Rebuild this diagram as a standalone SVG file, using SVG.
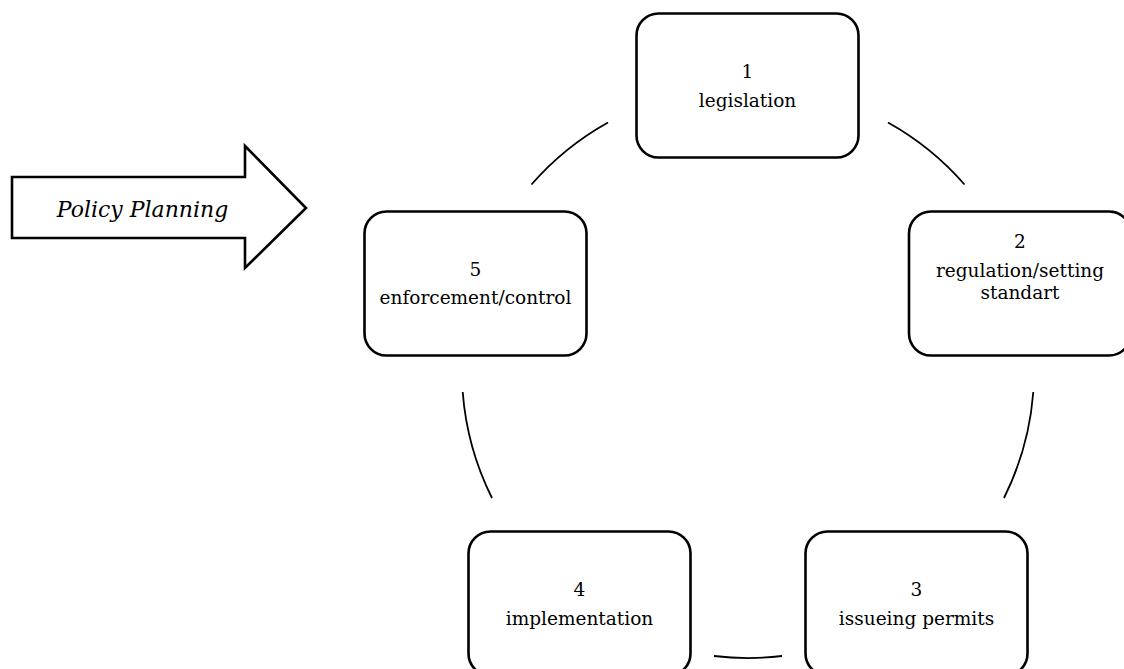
<svg xmlns="http://www.w3.org/2000/svg" width="1124" height="669" viewBox="0 0 1124 669">
<style>
.box{fill:#fff;stroke:#000;stroke-width:2.6}
.lbl{font-family:"DejaVu Serif","Liberation Serif",serif;font-size:18.5px;fill:#000;text-anchor:middle}
.arc{fill:none;stroke:#000;stroke-width:1.8}
.ttl{font-family:"DejaVu Serif","Liberation Serif",serif;font-style:italic;font-size:22px;fill:#000;text-anchor:middle}
</style>
<rect width="1124" height="669" fill="#fff"/>
<g id="policy-planning">
<polygon class="box" points="12,177 245,177 245,146 306,208 245,268 245,238 12,238"/>
<text class="ttl" x="142.5" y="217">Policy Planning</text>
</g>
<g id="connectors">
<path class="arc" d="M531.5 184.5 A286 286 0 0 1 608 122.5"/>
<path class="arc" d="M888 122.5 A286 286 0 0 1 964.5 184.5"/>
<path class="arc" d="M1033.3 392 A286 286 0 0 1 1004 498"/>
<path class="arc" d="M782 656 A286 286 0 0 1 714 656"/>
<path class="arc" d="M492 498 A286 286 0 0 1 462.7 392"/>
</g>
<g id="node1">
<rect class="box" x="636.5" y="13.5" width="222" height="144" rx="22"/>
<text class="lbl" x="747.5" y="78">1</text>
<text class="lbl" x="747.5" y="107">legislation</text>
</g>
<g id="node2">
<rect class="box" x="909" y="211.5" width="222" height="144" rx="22"/>
<text class="lbl" x="1020" y="248">2</text>
<text class="lbl" x="1020" y="277">regulation/setting</text>
<text class="lbl" x="1020" y="299">standart</text>
</g>
<g id="node3">
<rect class="box" x="805.5" y="531.5" width="222" height="144" rx="22"/>
<text class="lbl" x="916.5" y="596">3</text>
<text class="lbl" x="916.5" y="625">issueing permits</text>
</g>
<g id="node4">
<rect class="box" x="468.5" y="531.5" width="222" height="144" rx="22"/>
<text class="lbl" x="579.5" y="596">4</text>
<text class="lbl" x="579.5" y="625">implementation</text>
</g>
<g id="node5">
<rect class="box" x="364.5" y="211.5" width="222" height="144" rx="22"/>
<text class="lbl" x="475.5" y="276">5</text>
<text class="lbl" x="475.5" y="304">enforcement/control</text>
</g>
</svg>
